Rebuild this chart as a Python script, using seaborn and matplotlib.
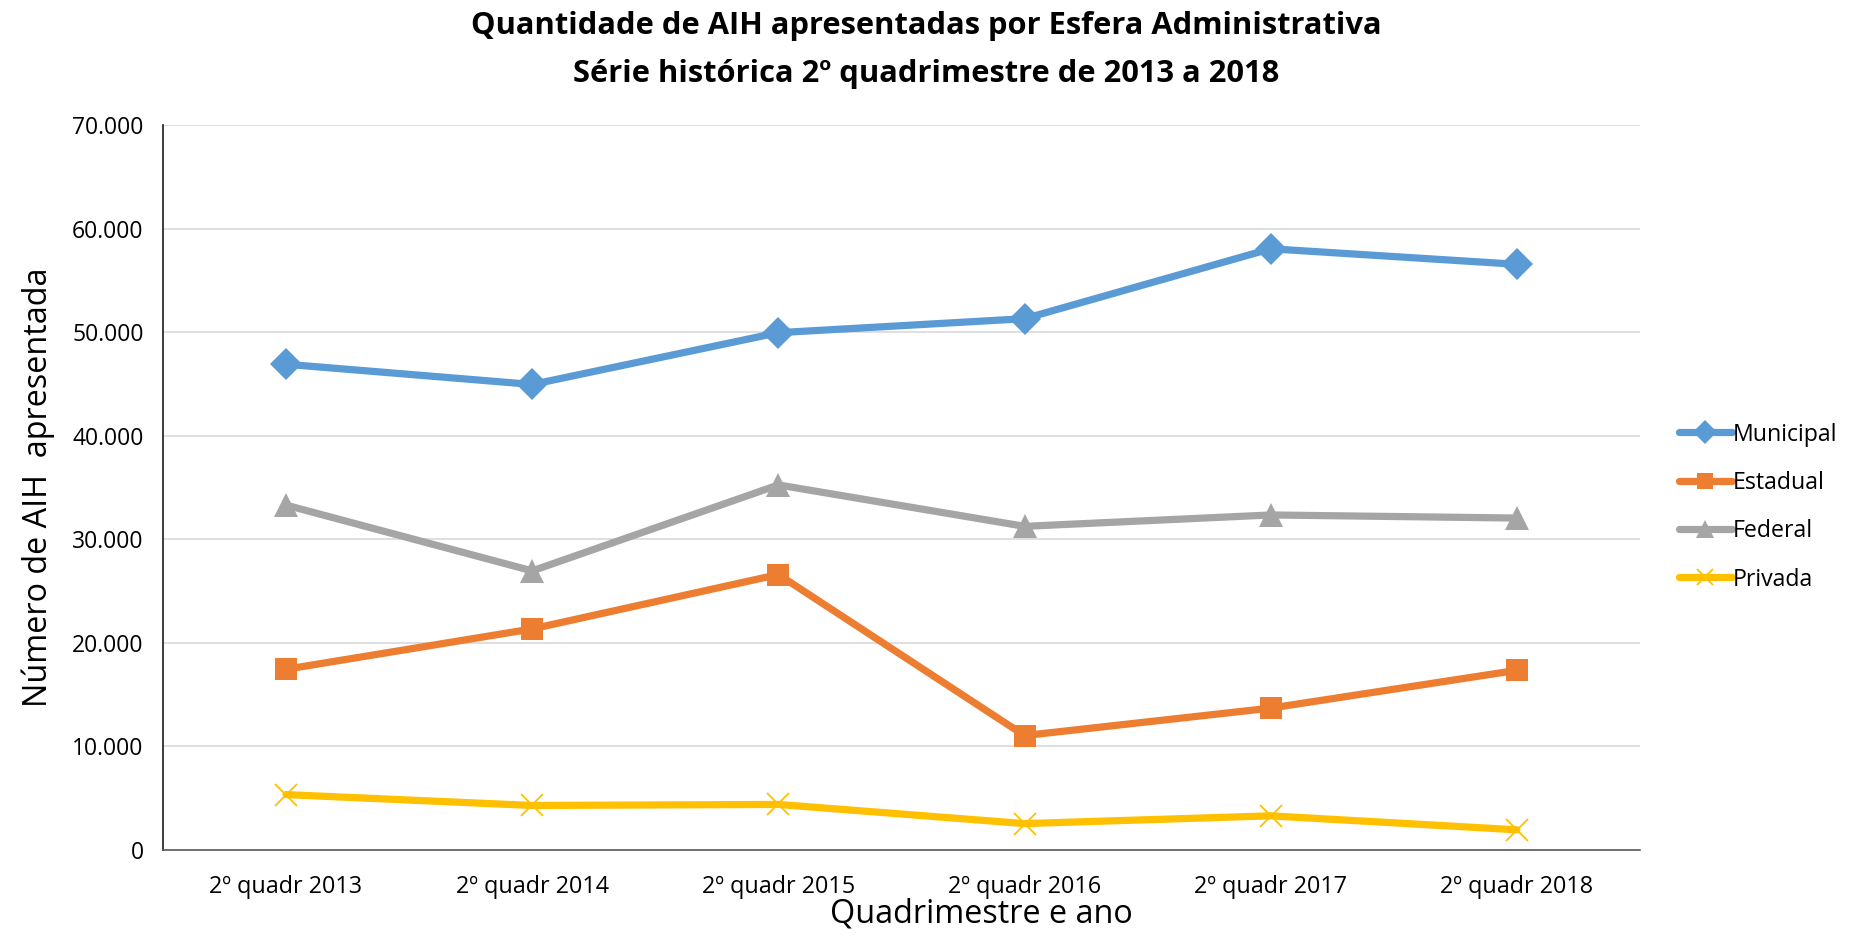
import matplotlib
matplotlib.use("Agg")
import matplotlib.pyplot as plt
import seaborn as sns
import pandas as pd
from matplotlib.ticker import FuncFormatter

categories = ["2º quadr 2013", "2º quadr 2014", "2º quadr 2015",
              "2º quadr 2016", "2º quadr 2017", "2º quadr 2018"]
municipal = [46900, 44950, 49950, 51300, 58050, 56550]
estadual = [17450, 21350, 26600, 11050, 13700, 17350]
federal = [33300, 26950, 35250, 31250, 32350, 32050]
privada = [5350, 4300, 4400, 2550, 3300, 1950]
series_names = ["Municipal", "Estadual", "Federal", "Privada"]
y_ticks = [0, 10000, 20000, 30000, 40000, 50000, 60000, 70000]

sns.set_theme(style="white")
plt.rcParams['font.family'] = ['Open Sans', 'DejaVu Sans']
plt.rcParams['text.color'] = '#000000'
plt.rcParams['axes.labelcolor'] = '#000000'

fig = plt.figure(figsize=(18.52, 9.35), dpi=100)
ax = fig.add_axes([0.088, 0.0909, 0.7975, 0.7754])

values = [municipal, estadual, federal, privada]
colors = ["#5B9BD5", "#ED7D31", "#A5A5A5", "#FFC000"]
markers = ["D", "s", "^", "x"]
msizes = [16, 16, 17, 16]
mews = [0, 0, 0, 1.3]

rows = []
for name, vals in zip(series_names, values):
    for i, v in enumerate(vals):
        rows.append({"pos": i, "valor": v, "serie": name})
df = pd.DataFrame(rows)

for name, col, mk, ms, mew in zip(series_names, colors, markers, msizes, mews):
    sub = df[df["serie"] == name]
    sns.lineplot(data=sub, x="pos", y="valor", ax=ax, color=col, lw=5.2,
                 marker=mk, markersize=ms, markeredgewidth=mew,
                 markeredgecolor=col, markerfacecolor=col, label=name,
                 solid_capstyle="round", solid_joinstyle="round")

ax.set_xlim(-0.5, len(categories) - 0.5)
ax.set_ylim(0, 70000)
ax.set_yticks(y_ticks)
ax.yaxis.set_major_formatter(FuncFormatter(lambda v, p: f"{int(v):,}".replace(",", ".")))
ax.set_xticks(range(len(categories)))
ax.set_xticklabels(categories)
ax.tick_params(axis="y", labelsize=16.5, length=0, pad=14, colors="#000000")
ax.tick_params(axis="x", labelsize=16.8, length=0, pad=18, colors="#000000")

ax.grid(axis="y", color="#D9D9D9", lw=1.2)
ax.grid(axis="x", visible=False)
for s in ["top", "right"]:
    ax.spines[s].set_visible(False)
ax.spines["left"].set_color("#1a1a1a")
ax.spines["left"].set_linewidth(1.2)
ax.spines["bottom"].set_color("#595959")
ax.spines["bottom"].set_linewidth(1.2)

ax.set_xlabel("Quadrimestre e ano", fontsize=23.3, labelpad=0, color="#000000")
ax.xaxis.set_label_coords(0.554, -0.065)
ax.set_ylabel("Número de AIH  apresentada", fontsize=23.3, labelpad=12, color="#000000")

fig.text(0.5, 0.988, "Quantidade de AIH apresentadas por Esfera Administrativa\nSérie histórica 2º quadrimestre de 2013 a 2018",
         ha="center", va="top", fontsize=22.2, fontweight="bold", linespacing=1.77,
         color="#000000")

leg = ax.legend(loc="center left", bbox_to_anchor=(1.012, 0.473), frameon=False,
                fontsize=16.7, handlelength=2.3, handletextpad=0.05, labelspacing=1.05,
                markerscale=0.75)
for t in leg.get_texts():
    t.set_color("#000000")

fig.savefig("out.png", dpi=100)
